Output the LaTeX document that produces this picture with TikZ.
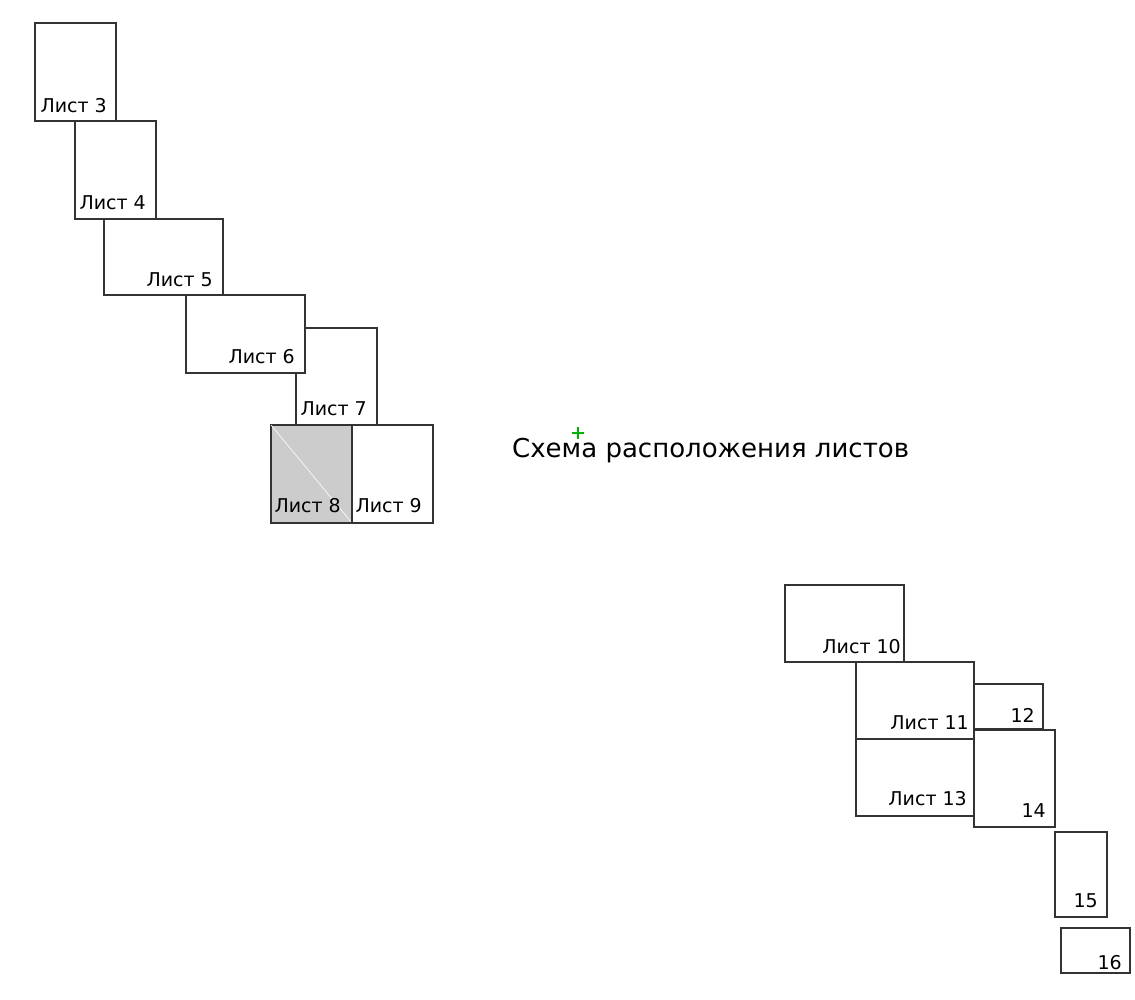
\documentclass[tikz,border=0pt]{standalone}
\usepackage{fontspec}
\setmainfont{DejaVu Sans}
\begin{document}
\begin{tikzpicture}[x=1pt,y=-1pt,
  sheet/.style={draw=black!80,line width=1.2pt,fill=white,rectangle,anchor=north west,inner sep=0pt,outer sep=0pt},
  lbl/.style={anchor=base east,inner sep=0pt,font=\fontsize{19}{19}\selectfont,text=black},
  title/.style={anchor=base west,inner sep=0pt,font=\fontsize{26}{26}\selectfont,text=black},
  plusmark/.style={draw=green!70!black,line width=1.3pt}]
\useasboundingbox (0,0) rectangle (1135,999);
% upper group
\node[sheet,minimum width=81,minimum height=98] (s3) at (35,23) {};
\node[sheet,minimum width=81,minimum height=98] (s4) at (75,121) {};
\node[sheet,minimum width=119,minimum height=76] (s5) at (104,219) {};
\node[sheet,minimum width=81,minimum height=97] (s7) at (296,328) {};
\node[sheet,minimum width=119,minimum height=78] (s6) at (186,295) {};
\node[sheet,minimum width=81,minimum height=98,fill=black!20] (s8) at (271,425) {};
\draw[white,line width=0.6pt] (s8.north west) -- (s8.south east);
\node[sheet,minimum width=81,minimum height=98] (s9) at (352,425) {};
% lower group
\node[sheet,minimum width=119,minimum height=77] (s10) at (785,585) {};
\node[sheet,minimum width=118,minimum height=77] (s11) at (856,662) {};
\node[sheet,minimum width=69,minimum height=45] (s12) at (974,684) {};
\node[sheet,minimum width=118,minimum height=77] (s13) at (856,739) {};
\node[sheet,minimum width=81,minimum height=97] (s14) at (974,730) {};
\node[sheet,minimum width=52,minimum height=85] (s15) at (1055,832) {};
\node[sheet,minimum width=69,minimum height=45] (s16) at (1061,928) {};
% labels
\node[lbl] (t3) at ([shift={(-9,-9)}]s3.south east) {Лист 3};
\node[lbl] (t4) at ([shift={(-10,-10)}]s4.south east) {Лист 4};
\node[lbl] (t5) at ([shift={(-10,-9)}]s5.south east) {Лист 5};
\node[lbl] (t6) at ([shift={(-10,-10)}]s6.south east) {Лист 6};
\node[lbl] (t7) at ([shift={(-10,-10)}]s7.south east) {Лист 7};
\node[lbl] (t8) at ([shift={(-11,-11)}]s8.south east) {Лист 8};
\node[lbl] (t9) at ([shift={(-11,-11)}]s9.south east) {Лист 9};
\node[lbl] (t10) at ([shift={(-3,-9)}]s10.south east) {Лист 10};
\node[lbl] (t11) at ([shift={(-5,-10)}]s11.south east) {Лист 11};
\node[lbl] (t12) at ([shift={(-8,-7)}]s12.south east) {12};
\node[lbl] (t13) at ([shift={(-7,-11)}]s13.south east) {Лист 13};
\node[lbl] (t14) at ([shift={(-9,-10)}]s14.south east) {14};
\node[lbl] (t15) at ([shift={(-9,-10)}]s15.south east) {15};
\node[lbl] (t16) at ([shift={(-8,-4)}]s16.south east) {16};
% title
\node[title] (ttl) at (512,457) {Схема расположения листов};
\coordinate (pm) at (578,433);
\draw[plusmark] ([xshift=-6]pm) -- ([xshift=6]pm);
\draw[plusmark] ([yshift=-6]pm) -- ([yshift=6]pm);
\end{tikzpicture}
\end{document}
